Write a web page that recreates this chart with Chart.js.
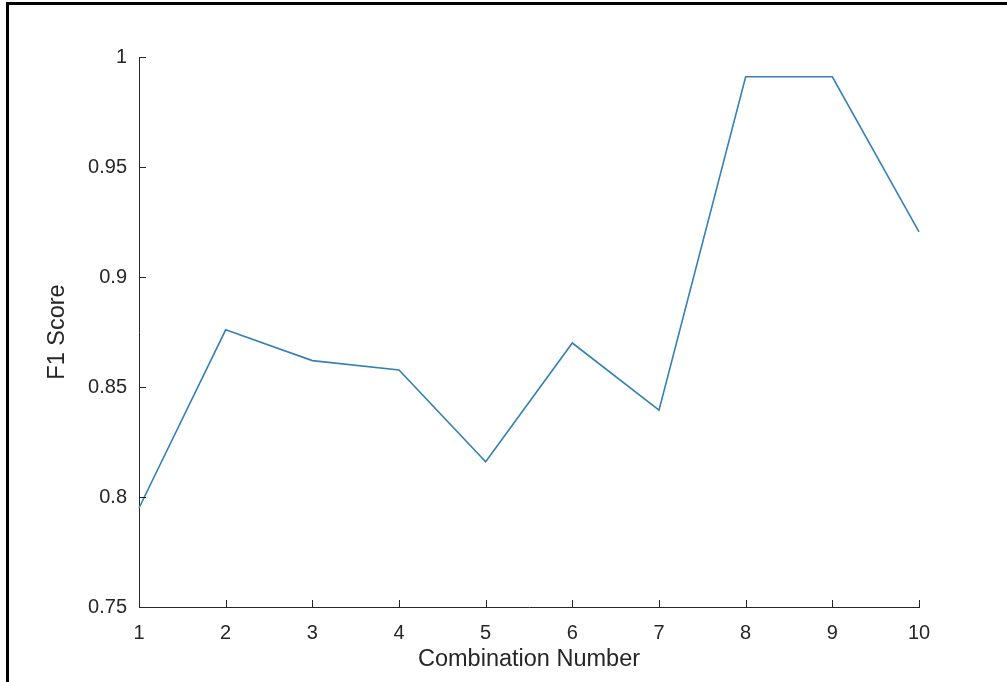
<!DOCTYPE html>
<html>
<head>
<meta charset="utf-8">
<script src="https://cdn.jsdelivr.net/npm/chart.js@4"></script>
<style>
    html, body { margin: 0; padding: 0; background: #fff; overflow: hidden; }
    #wrap { position: relative; width: 1007px; height: 682px; }
    #frame {
        position: absolute; left: 6px; top: 2px; width: 1020px; height: 700px;
        border-left: 3px solid #000; border-top: 3px solid #000;
        pointer-events: none;
    }
</style>
</head>
<body>
<div id="wrap">
    <canvas id="f1Chart"></canvas>
    <div id="frame"></div>
</div>
<script>
// F1 score per feature combination
const combinations = ['1', '2', '3', '4', '5', '6', '7', '8', '9', '10'];
const f1Scores = [0.795, 0.876, 0.862, 0.8577, 0.816, 0.870, 0.8395, 0.991, 0.991, 0.9205];
const yTicks = [0.75, 0.8, 0.85, 0.9, 0.95, 1];

const axisColor = '#262626';
const fontFamily = 'Arial, "Liberation Sans", Helvetica, sans-serif';

// MATLAB-style ticks pointing into the plot area
const inwardTicks = {
    id: 'inwardTicks',
    afterDraw(chart) {
        const { ctx, chartArea, scales: { x, y } } = chart;
        const len = 7;
        ctx.save();
        ctx.strokeStyle = axisColor;
        ctx.lineWidth = 1;
        ctx.beginPath();
        x.ticks.forEach((t, i) => {
            const px = Math.round(x.getPixelForTick(i)) + 0.5;
            ctx.moveTo(px, chartArea.bottom);
            ctx.lineTo(px, chartArea.bottom - len);
        });
        y.ticks.forEach((t, i) => {
            const py = Math.round(y.getPixelForTick(i)) + 0.5;
            ctx.moveTo(chartArea.left, py);
            ctx.lineTo(chartArea.left + len, py);
        });
        ctx.stroke();
        ctx.restore();
    }
};

const ctx = document.getElementById('f1Chart').getContext('2d');
new Chart(ctx, {
    type: 'line',
    data: {
        labels: combinations,
        datasets: [{
            label: 'F1 Score',
            data: f1Scores,
            borderColor: '#3580b6',
            borderWidth: 1.6,
            pointRadius: 0,
            fill: false,
            tension: 0
        }]
    },
    options: {
        responsive: true,
        maintainAspectRatio: false,
        animation: false,
        layout: { padding: { left: 0, top: 57, right: 88, bottom: 0 } },
        plugins: { legend: { display: false }, tooltip: { enabled: false } },
        scales: {
            x: {
                offset: false,
                border: { display: true, color: axisColor, width: 1 },
                grid: { drawOnChartArea: false, drawTicks: false },
                ticks: { color: axisColor, padding: 14, maxRotation: 0, font: { family: fontFamily, size: 20 } },
                title: {
                    display: true, text: 'Combination Number', color: axisColor,
                    font: { family: fontFamily, size: 23.5 }, padding: { top: 0, bottom: 8 }
                },
                afterFit: scale => { scale.height = 75; }
            },
            y: {
                min: 0.75,
                max: 1,
                border: { display: true, color: axisColor, width: 1 },
                grid: { drawOnChartArea: false, drawTicks: false },
                afterBuildTicks: scale => { scale.ticks = yTicks.map(v => ({ value: v })); },
                ticks: {
                    color: axisColor, padding: 12,
                    font: { family: fontFamily, size: 20 },
                    callback: v => String(Math.round(v * 100) / 100)
                },
                title: {
                    display: true, text: 'F1 Score', color: axisColor,
                    font: { family: fontFamily, size: 23.5 }, padding: { top: 43, bottom: 0 }
                },
                afterFit: scale => { scale.width = 139; }
            }
        }
    },
    plugins: [inwardTicks]
});
</script>
</body>
</html>
